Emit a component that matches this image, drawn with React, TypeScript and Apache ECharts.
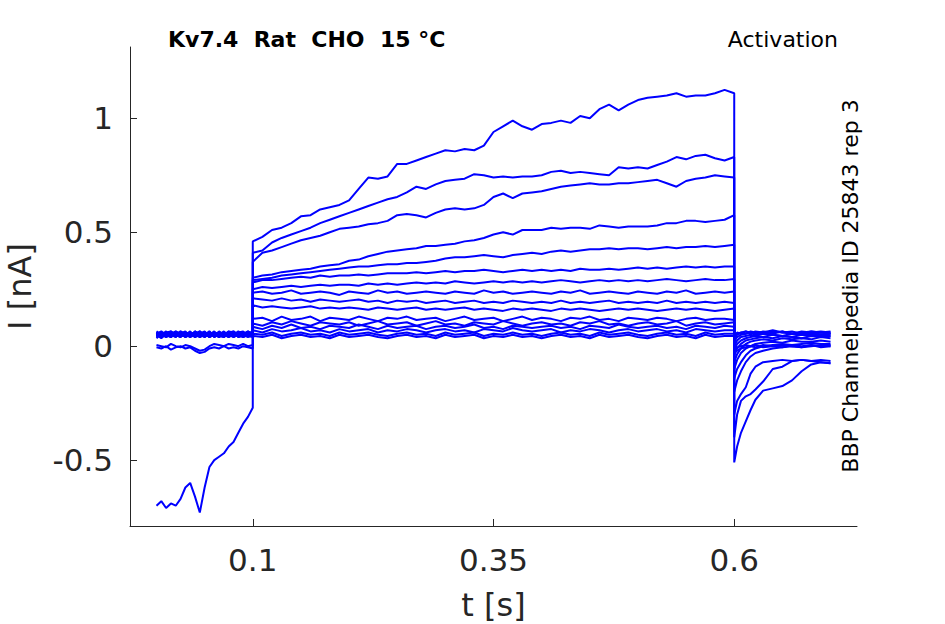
import React, { useEffect, useRef } from "react";
import * as echarts from "echarts";

// time bases (s)
const preT = [0, 0.005, 0.01, 0.015, 0.02, 0.025, 0.03, 0.035, 0.04, 0.045, 0.05, 0.055, 0.06, 0.065, 0.07, 0.075, 0.08, 0.085, 0.09, 0.095, 0.1];
const stepT = [
  0.1, 0.11, 0.12, 0.13, 0.14, 0.15, 0.16, 0.17, 0.18, 0.19,
  0.2, 0.21, 0.22, 0.23, 0.24, 0.25, 0.26, 0.27, 0.28, 0.29,
  0.3, 0.31, 0.32, 0.33, 0.34, 0.35, 0.36, 0.37, 0.38, 0.39,
  0.4, 0.41, 0.42, 0.43, 0.44, 0.45, 0.46, 0.47, 0.48, 0.49,
  0.5, 0.51, 0.52, 0.53, 0.54, 0.55, 0.56, 0.57, 0.58, 0.59,
  0.6,
];
const tailT = [0.6, 0.603, 0.607, 0.612, 0.617, 0.622, 0.63, 0.64, 0.65, 0.66, 0.67, 0.68, 0.69, 0.7];

// tick labels
const xTicks = [0.1, 0.35, 0.6];
const yTicks = [-0.5, 0, 0.5, 1];

// current traces (nA)
const preA = [-0.7, -0.68, -0.71, -0.69, -0.7, -0.67, -0.62, -0.6, -0.66, -0.73, -0.62, -0.53, -0.5, -0.485, -0.47, -0.44, -0.42, -0.38, -0.34, -0.31, -0.27];
const stepA = [
  0.46, 0.48, 0.51, 0.52, 0.54, 0.57, 0.575, 0.6, 0.61, 0.62,
  0.64, 0.69, 0.74, 0.735, 0.745, 0.8, 0.8, 0.815, 0.83, 0.845,
  0.86, 0.855, 0.865, 0.86, 0.88, 0.94, 0.965, 0.99, 0.965, 0.95,
  0.975, 0.98, 0.99, 0.98, 1.01, 1.0, 1.04, 1.06, 1.035, 1.06,
  1.08, 1.09, 1.095, 1.1, 1.11, 1.095, 1.1, 1.1, 1.11, 1.125,
  1.11,
];
const tailA = [-0.51, -0.44, -0.38, -0.33, -0.28, -0.235, -0.195, -0.185, -0.175, -0.15, -0.11, -0.08, -0.07, -0.075];

const preB = [0.05, 0.06, 0.045, 0.055, 0.05, 0.065, 0.04, 0.055, 0.06, 0.045, 0.05, 0.06, 0.05, 0.04, 0.055, 0.06, 0.05, 0.045, 0.06, 0.05, 0.055];
const stepB = [
  0.41, 0.42, 0.455, 0.475, 0.49, 0.505, 0.52, 0.54, 0.555, 0.57,
  0.585, 0.6, 0.615, 0.63, 0.645, 0.655, 0.675, 0.7, 0.69, 0.71,
  0.725, 0.73, 0.735, 0.755, 0.75, 0.74, 0.745, 0.74, 0.745, 0.745,
  0.75, 0.765, 0.77, 0.76, 0.765, 0.76, 0.755, 0.75, 0.785, 0.78,
  0.785, 0.78, 0.795, 0.81, 0.83, 0.82, 0.835, 0.84, 0.825, 0.815,
  0.83,
];
const tailB = [-0.4, -0.3, -0.24, -0.22, -0.21, -0.19, -0.155, -0.1, -0.09, -0.065, -0.06, -0.065, -0.07, -0.075];

const preC = [0.06, 0.045, 0.055, 0.065, 0.05, 0.04, 0.06, 0.05, 0.045, 0.06, 0.055, 0.04, 0.06, 0.05, 0.065, 0.045, 0.055, 0.06, 0.04, 0.05, 0.06];
const stepC = [
  0.37, 0.41, 0.42, 0.435, 0.45, 0.465, 0.475, 0.485, 0.5, 0.515,
  0.52, 0.525, 0.535, 0.54, 0.55, 0.575, 0.58, 0.575, 0.565, 0.585,
  0.6, 0.605, 0.6, 0.605, 0.62, 0.655, 0.67, 0.65, 0.67, 0.675,
  0.68, 0.69, 0.7, 0.705, 0.71, 0.715, 0.71, 0.71, 0.715, 0.715,
  0.72, 0.725, 0.73, 0.715, 0.7, 0.725, 0.735, 0.74, 0.75, 0.745,
  0.74,
];
const tailC = [-0.3, -0.24, -0.21, -0.18, -0.12, -0.09, -0.07, -0.065, -0.06, -0.065, -0.06, -0.065, -0.06, -0.065];

const preD = [0.04, 0.055, 0.05, 0.04, 0.06, 0.05, 0.055, 0.045, 0.065, 0.05, 0.04, 0.055, 0.045, 0.06, 0.05, 0.04, 0.06, 0.055, 0.045, 0.06, 0.05];
const stepD = [
  0.3, 0.31, 0.315, 0.325, 0.33, 0.335, 0.34, 0.35, 0.355, 0.36,
  0.375, 0.38, 0.395, 0.405, 0.415, 0.42, 0.425, 0.43, 0.44, 0.44,
  0.445, 0.45, 0.46, 0.465, 0.475, 0.49, 0.5, 0.49, 0.51, 0.51,
  0.51, 0.52, 0.515, 0.52, 0.52, 0.515, 0.53, 0.525, 0.52, 0.525,
  0.525, 0.525, 0.53, 0.54, 0.54, 0.55, 0.55, 0.545, 0.55, 0.555,
  0.575,
];
const tailD = [-0.2, -0.15, -0.11, -0.07, -0.045, -0.03, -0.02, -0.01, -0.005, 0.0, -0.005, 0.0, 0.005, 0.0];

const preE = [0.055, 0.04, 0.06, 0.05, 0.045, 0.055, 0.065, 0.04, 0.05, 0.06, 0.045, 0.05, 0.065, 0.045, 0.04, 0.055, 0.05, 0.065, 0.05, 0.045, 0.055];
const stepE = [
  0.29, 0.295, 0.3, 0.31, 0.315, 0.32, 0.325, 0.33, 0.335, 0.34,
  0.345, 0.35, 0.35, 0.355, 0.36, 0.36, 0.365, 0.365, 0.37, 0.375,
  0.385, 0.39, 0.39, 0.395, 0.4, 0.395, 0.39, 0.4, 0.405, 0.41,
  0.405, 0.415, 0.42, 0.415, 0.42, 0.425, 0.425, 0.43, 0.425, 0.43,
  0.43, 0.425, 0.43, 0.435, 0.43, 0.435, 0.435, 0.44, 0.435, 0.44,
  0.445,
];
const tailE = [-0.14, -0.1, -0.07, -0.04, -0.02, -0.01, 0.0, 0.005, 0.01, 0.005, 0.01, 0.015, 0.01, 0.01];

const preF = [0.065, 0.05, 0.04, 0.06, 0.055, 0.045, 0.05, 0.06, 0.04, 0.055, 0.065, 0.045, 0.055, 0.05, 0.06, 0.05, 0.04, 0.05, 0.06, 0.055, 0.045];
const stepF = [
  0.28, 0.29, 0.29, 0.295, 0.3, 0.305, 0.3, 0.31, 0.305, 0.31,
  0.31, 0.315, 0.31, 0.315, 0.32, 0.32, 0.32, 0.325, 0.32, 0.325,
  0.33, 0.325, 0.33, 0.33, 0.335, 0.33, 0.325, 0.33, 0.335, 0.33,
  0.335, 0.33, 0.335, 0.33, 0.34, 0.335, 0.335, 0.34, 0.335, 0.34,
  0.345, 0.34, 0.345, 0.34, 0.345, 0.35, 0.345, 0.35, 0.345, 0.35,
  0.35,
];
const tailF = [-0.1, -0.06, -0.03, -0.01, 0.0, 0.01, 0.015, 0.02, 0.015, 0.025, 0.02, 0.02, 0.025, 0.02];

const preG = [0.045, 0.06, 0.05, 0.045, 0.065, 0.055, 0.04, 0.05, 0.06, 0.04, 0.05, 0.065, 0.04, 0.055, 0.045, 0.065, 0.06, 0.04, 0.055, 0.065, 0.05];
const stepG = [
  0.25, 0.26, 0.255, 0.26, 0.265, 0.26, 0.265, 0.27, 0.265, 0.27,
  0.27, 0.265, 0.275, 0.27, 0.275, 0.27, 0.275, 0.28, 0.275, 0.28,
  0.275, 0.285, 0.28, 0.275, 0.28, 0.285, 0.28, 0.285, 0.28, 0.285,
  0.28, 0.285, 0.29, 0.285, 0.28, 0.285, 0.29, 0.285, 0.29, 0.285,
  0.29, 0.285, 0.29, 0.295, 0.29, 0.285, 0.29, 0.295, 0.29, 0.29,
  0.295,
];
const tailG = [-0.07, -0.035, -0.01, 0.01, 0.02, 0.025, 0.03, 0.025, 0.035, 0.03, 0.035, 0.03, 0.04, 0.035];

const preH = [0.05, 0.035, 0.055, 0.06, 0.04, 0.06, 0.05, 0.065, 0.045, 0.055, 0.06, 0.05, 0.045, 0.065, 0.05, 0.045, 0.055, 0.05, 0.04, 0.05, 0.06];
const stepH = [
  0.235, 0.24, 0.23, 0.235, 0.245, 0.23, 0.235, 0.24, 0.235, 0.225,
  0.24, 0.235, 0.23, 0.245, 0.235, 0.24, 0.23, 0.235, 0.24, 0.235,
  0.23, 0.24, 0.235, 0.23, 0.245, 0.235, 0.24, 0.23, 0.235, 0.24,
  0.235, 0.23, 0.24, 0.235, 0.245, 0.23, 0.235, 0.24, 0.235, 0.23,
  0.24, 0.235, 0.23, 0.24, 0.235, 0.245, 0.23, 0.235, 0.24, 0.235,
  0.24,
];
const tailH = [-0.04, -0.01, 0.01, 0.025, 0.03, 0.035, 0.04, 0.035, 0.045, 0.04, 0.035, 0.045, 0.04, 0.045];

const preI = [0.06, 0.05, 0.065, 0.045, 0.05, 0.04, 0.06, 0.045, 0.055, 0.065, 0.04, 0.06, 0.055, 0.04, 0.06, 0.055, 0.045, 0.06, 0.065, 0.045, 0.04];
const stepI = [
  0.21, 0.205, 0.2, 0.21, 0.2, 0.205, 0.195, 0.205, 0.2, 0.195,
  0.2, 0.205, 0.195, 0.2, 0.19, 0.2, 0.195, 0.2, 0.19, 0.195,
  0.2, 0.19, 0.195, 0.2, 0.19, 0.195, 0.19, 0.2, 0.195, 0.19,
  0.195, 0.19, 0.2, 0.19, 0.195, 0.19, 0.195, 0.2, 0.19, 0.195,
  0.19, 0.195, 0.19, 0.2, 0.19, 0.195, 0.19, 0.195, 0.19, 0.195,
  0.19,
];
const tailI = [-0.02, 0.01, 0.025, 0.035, 0.04, 0.045, 0.04, 0.05, 0.045, 0.04, 0.05, 0.045, 0.05, 0.045];

const preJ = [0.035, 0.055, 0.045, 0.055, 0.06, 0.05, 0.045, 0.06, 0.05, 0.04, 0.055, 0.045, 0.06, 0.05, 0.04, 0.06, 0.065, 0.05, 0.045, 0.06, 0.05];
const stepJ = [
  0.18, 0.17, 0.175, 0.17, 0.165, 0.17, 0.175, 0.165, 0.17, 0.165,
  0.17, 0.165, 0.16, 0.17, 0.165, 0.16, 0.165, 0.17, 0.16, 0.165,
  0.16, 0.165, 0.17, 0.16, 0.165, 0.16, 0.155, 0.165, 0.16, 0.165,
  0.16, 0.155, 0.165, 0.16, 0.165, 0.16, 0.155, 0.16, 0.165, 0.16,
  0.165, 0.16, 0.155, 0.16, 0.165, 0.16, 0.165, 0.16, 0.155, 0.16,
  0.165,
];
const tailJ = [0.0, 0.025, 0.04, 0.045, 0.05, 0.045, 0.055, 0.05, 0.045, 0.055, 0.05, 0.055, 0.05, 0.055];

const preK = [0.055, 0.065, 0.05, 0.04, 0.055, 0.06, 0.05, 0.04, 0.065, 0.05, 0.06, 0.04, 0.05, 0.06, 0.055, 0.04, 0.05, 0.06, 0.05, 0.055, 0.065];
const stepK = [
  0.12, 0.125, 0.11, 0.13, 0.115, 0.12, 0.13, 0.11, 0.125, 0.12,
  0.115, 0.13, 0.12, 0.11, 0.125, 0.12, 0.13, 0.115, 0.12, 0.125,
  0.11, 0.12, 0.13, 0.115, 0.12, 0.125, 0.11, 0.12, 0.13, 0.115,
  0.125, 0.12, 0.11, 0.125, 0.12, 0.13, 0.115, 0.12, 0.11, 0.125,
  0.12, 0.115, 0.125, 0.12, 0.11, 0.12, 0.125, 0.115, 0.12, 0.12,
  0.115,
];
const tailK = [0.02, 0.04, 0.05, 0.055, 0.06, 0.05, 0.06, 0.055, 0.065, 0.055, 0.06, 0.05, 0.06, 0.055];

const preL = [0.045, 0.05, 0.06, 0.065, 0.045, 0.05, 0.06, 0.055, 0.04, 0.05, 0.045, 0.065, 0.04, 0.055, 0.06, 0.05, 0.065, 0.045, 0.05, 0.04, 0.05];
const stepL = [
  0.1, 0.09, 0.105, 0.095, 0.11, 0.1, 0.09, 0.105, 0.1, 0.095,
  0.105, 0.09, 0.1, 0.11, 0.095, 0.1, 0.105, 0.09, 0.1, 0.11,
  0.095, 0.1, 0.09, 0.105, 0.1, 0.095, 0.11, 0.1, 0.09, 0.1,
  0.105, 0.095, 0.1, 0.09, 0.105, 0.1, 0.11, 0.095, 0.1, 0.09,
  0.1, 0.105, 0.095, 0.1, 0.11, 0.09, 0.1, 0.105, 0.095, 0.1,
  0.105,
];
const tailL = [0.03, 0.05, 0.06, 0.055, 0.065, 0.06, 0.055, 0.065, 0.06, 0.055, 0.065, 0.06, 0.065, 0.06];

const preM = [0.06, 0.04, 0.05, 0.055, 0.065, 0.045, 0.045, 0.06, 0.05, 0.065, 0.05, 0.055, 0.06, 0.045, 0.05, 0.065, 0.04, 0.055, 0.06, 0.05, 0.045];
const stepM = [
  0.085, 0.075, 0.09, 0.08, 0.095, 0.08, 0.085, 0.075, 0.09, 0.085,
  0.08, 0.095, 0.085, 0.075, 0.09, 0.08, 0.085, 0.09, 0.075, 0.085,
  0.09, 0.08, 0.085, 0.095, 0.08, 0.085, 0.075, 0.09, 0.085, 0.08,
  0.085, 0.09, 0.08, 0.085, 0.075, 0.09, 0.085, 0.08, 0.095, 0.085,
  0.08, 0.085, 0.09, 0.08, 0.085, 0.075, 0.09, 0.085, 0.08, 0.09,
  0.085,
];
const tailM = [0.04, 0.055, 0.06, 0.065, 0.055, 0.065, 0.06, 0.07, 0.06, 0.065, 0.055, 0.065, 0.06, 0.065];

const preN = [0.05, 0.06, 0.04, 0.05, 0.04, 0.065, 0.055, 0.05, 0.045, 0.055, 0.06, 0.04, 0.055, 0.06, 0.045, 0.05, 0.06, 0.04, 0.045, 0.065, 0.055];
const stepN = [
  0.07, 0.06, 0.075, 0.065, 0.07, 0.08, 0.065, 0.07, 0.06, 0.075,
  0.065, 0.07, 0.075, 0.06, 0.07, 0.065, 0.075, 0.07, 0.06, 0.07,
  0.075, 0.065, 0.07, 0.06, 0.075, 0.07, 0.065, 0.08, 0.07, 0.065,
  0.07, 0.075, 0.06, 0.07, 0.065, 0.075, 0.07, 0.06, 0.07, 0.075,
  0.065, 0.07, 0.075, 0.065, 0.07, 0.06, 0.075, 0.07, 0.065, 0.07,
  0.07,
];
const tailN = [0.045, 0.06, 0.055, 0.065, 0.06, 0.055, 0.065, 0.06, 0.065, 0.055, 0.06, 0.065, 0.06, 0.055];

const preO = [-0.005, -0.01, 0.0, -0.015, -0.005, 0.0, -0.01, -0.005, -0.02, -0.03, -0.025, -0.01, -0.005, -0.01, 0.0, -0.01, -0.005, -0.01, 0.0, -0.005, -0.01];
const stepO = [
  0.055, 0.05, 0.06, 0.045, 0.055, 0.06, 0.05, 0.055, 0.045, 0.06,
  0.05, 0.055, 0.06, 0.05, 0.045, 0.055, 0.06, 0.05, 0.055, 0.045,
  0.06, 0.05, 0.055, 0.06, 0.045, 0.055, 0.05, 0.06, 0.05, 0.055,
  0.045, 0.055, 0.06, 0.05, 0.055, 0.045, 0.06, 0.05, 0.055, 0.06,
  0.05, 0.045, 0.055, 0.06, 0.05, 0.055, 0.045, 0.06, 0.05, 0.055,
  0.055,
];
const tailO = [-0.02, -0.005, 0.0, 0.005, 0.0, 0.005, -0.005, 0.0, 0.005, 0.0, -0.005, 0.005, 0.0, 0.005];

const preP = [0.005, 0.0, -0.005, 0.01, 0.0, -0.005, 0.005, 0.0, -0.01, -0.02, -0.015, 0.0, 0.01, 0.005, 0.0, 0.01, 0.005, 0.0, 0.01, 0.0, 0.005];
const stepP = [
  0.045, 0.04, 0.05, 0.035, 0.045, 0.05, 0.04, 0.045, 0.035, 0.05,
  0.04, 0.045, 0.05, 0.04, 0.035, 0.045, 0.05, 0.04, 0.045, 0.035,
  0.05, 0.04, 0.045, 0.05, 0.035, 0.045, 0.04, 0.05, 0.04, 0.045,
  0.035, 0.045, 0.05, 0.04, 0.045, 0.035, 0.05, 0.04, 0.045, 0.05,
  0.04, 0.035, 0.045, 0.05, 0.04, 0.045, 0.035, 0.05, 0.04, 0.045,
  0.045,
];
const tailP = [-0.03, -0.02, -0.01, -0.005, 0.0, -0.005, 0.005, 0.0, -0.005, 0.005, 0.0, 0.005, -0.005, 0.0];

const traces = [
  [preA, stepA, tailA], [preB, stepB, tailB], [preC, stepC, tailC], [preD, stepD, tailD],
  [preE, stepE, tailE], [preF, stepF, tailF], [preG, stepG, tailG], [preH, stepH, tailH],
  [preI, stepI, tailI], [preJ, stepJ, tailJ], [preK, stepK, tailK], [preL, stepL, tailL],
  [preM, stepM, tailM], [preN, stepN, tailN], [preO, stepO, tailO], [preP, stepP, tailP],
];

const pair = (times: number[], vals: number[]) =>
  vals.map((v, i) => [times[i], v]).filter((p) => p[0] !== undefined);

const FONT = "DejaVu Sans";
const AX = "#262626";

export default function App() {
  const ref = useRef<HTMLDivElement>(null);
  useEffect(() => {
    if (!ref.current) return;
    const chart = echarts.init(ref.current, undefined, { renderer: "svg" });
    const series = traces.map(([pre, step, tail]) => ({
      type: "line",
      data: [...pair(preT, pre), ...pair(stepT, step), ...pair(tailT, tail)],
      showSymbol: false,
      symbol: "none",
      lineStyle: { color: "#0000ff", width: 2 },
      itemStyle: { color: "#0000ff" },
      silent: true,
    }));
    chart.setOption({
      animation: false,
      backgroundColor: "#ffffff",
      grid: { left: 130, right: 88, top: 47, bottom: 98, containLabel: false, outerBoundsMode: "none" },
      xAxis: {
        type: "value",
        min: -0.0275,
        max: 0.7275,
        name: "t [s]",
        nameLocation: "middle",
        nameGap: 63,
        nameTextStyle: { fontFamily: FONT, fontSize: 32, color: AX },
        axisLine: { onZero: false, lineStyle: { color: AX, width: 1 } },
        axisTick: { inside: true, length: 7, customValues: xTicks, lineStyle: { color: AX } },
        axisLabel: {
          customValues: xTicks,
          margin: 18,
          fontFamily: FONT,
          fontSize: 31,
          color: AX,
          formatter: (v: number) => String(v),
        },
        splitLine: { show: false },
      },
      yAxis: {
        type: "value",
        min: -0.789,
        max: 1.313,
        name: "I [nA]",
        nameLocation: "middle",
        nameGap: 94,
        nameTextStyle: { fontFamily: FONT, fontSize: 32, color: AX },
        axisLine: { show: true, onZero: false, lineStyle: { color: AX, width: 1 } },
        axisTick: { show: true, inside: true, length: 7, customValues: yTicks, lineStyle: { color: AX } },
        axisLabel: {
          customValues: yTicks,
          margin: 17,
          fontFamily: FONT,
          fontSize: 31,
          color: AX,
          formatter: (v: number) => String(v),
        },
        splitLine: { show: false },
      },
      graphic: [
        {
          type: "text",
          x: 168,
          y: 39,
          style: {
            text: "Kv7.4  Rat  CHO  15 °C",
            fill: "#000",
            font: `bold 22px "${FONT}"`,
            textAlign: "left",
            textVerticalAlign: "middle",
          },
        },
        {
          type: "text",
          x: 838,
          y: 39,
          style: {
            text: "Activation",
            fill: "#000",
            font: `22px "${FONT}"`,
            textAlign: "right",
            textVerticalAlign: "middle",
          },
        },
        {
          type: "text",
          x: 850,
          y: 286,
          rotation: Math.PI / 2,
          style: {
            text: "BBP Channelpedia ID 25843 rep 3",
            fill: "#000",
            font: `22px "${FONT}"`,
            textAlign: "center",
            textVerticalAlign: "middle",
          },
        },
      ],
      series,
    });
    return () => chart.dispose();
  }, []);
  return (
    <div
      ref={ref}
      style={{ position: "fixed", left: 0, top: 0, width: 945, height: 624, background: "#fff" }}
    />
  );
}
